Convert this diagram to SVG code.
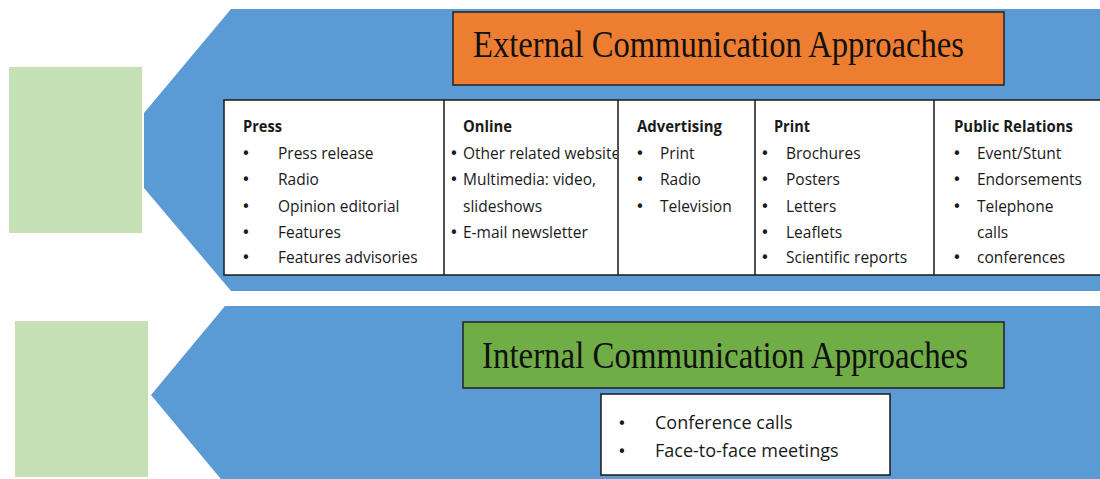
<svg xmlns="http://www.w3.org/2000/svg" width="1100" height="479" viewBox="0 0 1100 479">
<defs>
<style>
.blue{fill:#5B9BD5}
.lg{fill:#C5E0B4}
.t{font-family:"Open Sans","Liberation Sans",sans-serif;font-size:15.5px;fill:#1a1a1a}
.h{font-family:"Open Sans","Liberation Sans",sans-serif;font-size:15.5px;font-weight:bold;fill:#1a1a1a}
.b{font-family:"DejaVu Sans","Liberation Sans",sans-serif;font-size:15px;fill:#1a1a1a;text-anchor:middle}
.ti{font-family:"Liberation Serif","DejaVu Serif",serif;font-size:37px;fill:#111}
.box{stroke:#222;stroke-width:1.5}
.cell{fill:#fff;stroke:#1a1a1a;stroke-width:1.5}
.it{font-family:"Open Sans","Liberation Sans",sans-serif;font-size:18px;fill:#1a1a1a}
</style>
<clipPath id="clipOnline"><rect x="444" y="100" width="173" height="175"/></clipPath>
</defs>
<g id="external">
<polygon class="blue" points="231,9 1100,9 1100,291 231,291 144,188 144,113"/>
<rect id="ext-side" class="lg" x="9" y="67" width="133" height="166"/>
<g id="ext-title">
<rect class="box" x="453" y="12" width="551" height="73" fill="#ED7D31"/>
<text class="ti" x="473" y="57" textLength="491" lengthAdjust="spacingAndGlyphs">External Communication Approaches</text>
</g>
<g id="ext-table">
<rect class="cell" x="224" y="100" width="880" height="175"/>
<line x1="444" y1="100" x2="444" y2="275" stroke="#1a1a1a" stroke-width="1.5"/>
<line x1="618" y1="100" x2="618" y2="275" stroke="#1a1a1a" stroke-width="1.5"/>
<line x1="755" y1="100" x2="755" y2="275" stroke="#1a1a1a" stroke-width="1.5"/>
<line x1="934" y1="100" x2="934" y2="275" stroke="#1a1a1a" stroke-width="1.5"/>
</g>
<g id="col-press">
<text class="h" x="243" y="132" textLength="39" lengthAdjust="spacingAndGlyphs">Press</text>
<text class="b" x="246" y="159">•</text><text class="t" x="278" y="159">Press release</text>
<text class="b" x="246" y="185">•</text><text class="t" x="278" y="185">Radio</text>
<text class="b" x="246" y="212">•</text><text class="t" x="278" y="212">Opinion editorial</text>
<text class="b" x="246" y="238">•</text><text class="t" x="278" y="238">Features</text>
<text class="b" x="246" y="263">•</text><text class="t" x="278" y="263">Features advisories</text>
</g>
<g id="col-online" clip-path="url(#clipOnline)">
<text class="h" x="463" y="132" textLength="49" lengthAdjust="spacingAndGlyphs">Online</text>
<text class="b" x="454" y="159">•</text><text class="t" x="463" y="159">Other related website</text>
<text class="b" x="454" y="185">•</text><text class="t" x="463" y="185">Multimedia: video,</text>
<text class="t" x="463" y="212">slideshows</text>
<text class="b" x="454" y="238">•</text><text class="t" x="463" y="238">E-mail newsletter</text>
</g>
<g id="col-advertising">
<text class="h" x="637" y="132" textLength="85" lengthAdjust="spacingAndGlyphs">Advertising</text>
<text class="b" x="640" y="159">•</text><text class="t" x="660" y="159">Print</text>
<text class="b" x="640" y="185">•</text><text class="t" x="660" y="185">Radio</text>
<text class="b" x="640" y="212">•</text><text class="t" x="660" y="212">Television</text>
</g>
<g id="col-print">
<text class="h" x="774" y="132" textLength="36" lengthAdjust="spacingAndGlyphs">Print</text>
<text class="b" x="765" y="159">•</text><text class="t" x="786" y="159">Brochures</text>
<text class="b" x="765" y="185">•</text><text class="t" x="786" y="185">Posters</text>
<text class="b" x="765" y="212">•</text><text class="t" x="786" y="212">Letters</text>
<text class="b" x="765" y="238">•</text><text class="t" x="786" y="238">Leaflets</text>
<text class="b" x="765" y="263">•</text><text class="t" x="786" y="263">Scientific reports</text>
</g>
<g id="col-pr">
<text class="h" x="954" y="132" textLength="119" lengthAdjust="spacingAndGlyphs">Public Relations</text>
<text class="b" x="957" y="159">•</text><text class="t" x="977" y="159">Event/Stunt</text>
<text class="b" x="957" y="185">•</text><text class="t" x="977" y="185">Endorsements</text>
<text class="b" x="957" y="212">•</text><text class="t" x="977" y="212">Telephone</text>
<text class="t" x="977" y="238">calls</text>
<text class="b" x="957" y="263">•</text><text class="t" x="977" y="263">conferences</text>
</g>
</g>
<g id="internal">
<polygon class="blue" points="225,306 1100,306 1100,484 225,484 151,395"/>
<rect id="int-side" class="lg" x="15" y="321" width="133" height="156"/>
<g id="int-title">
<rect class="box" x="463" y="322" width="541" height="66" fill="#70AD47"/>
<text class="ti" x="482" y="368" textLength="486" lengthAdjust="spacingAndGlyphs">Internal Communication Approaches</text>
</g>
<g id="int-list">
<rect class="cell" x="601" y="394" width="289" height="81"/>
<text class="b" x="622" y="429">•</text><text class="it" x="655" y="429">Conference calls</text>
<text class="b" x="622" y="457">•</text><text class="it" x="655" y="457">Face-to-face meetings</text>
</g>
</g>
<g id="connectors"></g>
</svg>
